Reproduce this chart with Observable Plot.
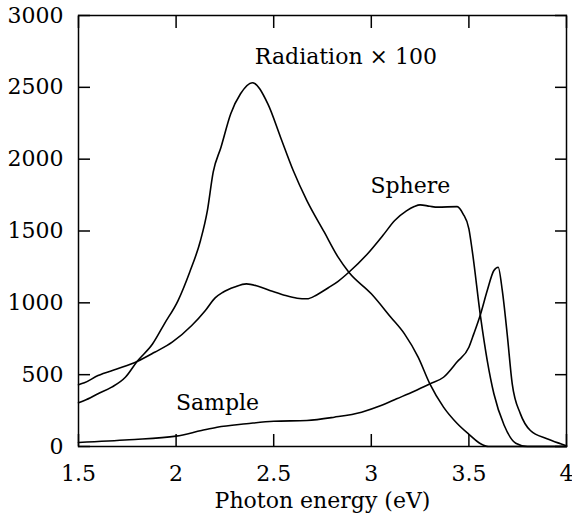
<!DOCTYPE html>
<html><head><meta charset="utf-8">
<script src="https://cdn.jsdelivr.net/npm/d3@7"></script>
<script src="https://cdn.jsdelivr.net/npm/@observablehq/plot@0.6"></script>
<style>body{margin:0;background:#fff}</style>
</head><body><div id="chart"></div>
<script>
// Radiation x 100
const radX = [1.5, 1.53, 1.6, 1.67, 1.74, 1.8, 1.88, 1.94, 2.01, 2.07, 2.125, 2.16, 2.19, 2.23, 2.28, 2.33, 2.39, 2.47, 2.535, 2.6, 2.67, 2.76, 2.83, 2.885, 3.0, 3.1, 3.17, 3.24, 3.3, 3.37, 3.44, 3.5, 3.56, 3.6, 3.7, 4.0];
const radY = [305, 320, 367, 413, 482, 592, 715, 854, 1016, 1215, 1434, 1640, 1910, 2083, 2316, 2455, 2532, 2385, 2153, 1921, 1712, 1490, 1318, 1213, 1063, 900, 784, 622, 436, 274, 160, 85, 19, 0, 0, 0];
// Sphere
const sphX = [1.5, 1.53, 1.6, 1.7, 1.8, 1.89, 1.98, 2.08, 2.15, 2.2, 2.24, 2.3, 2.36, 2.42, 2.48, 2.55, 2.62, 2.67, 2.72, 2.78, 2.83, 2.885, 2.98, 3.06, 3.12, 3.18, 3.22, 3.25, 3.3, 3.34, 3.44, 3.47, 3.5, 3.517, 3.56, 3.594, 3.628, 3.68, 3.74, 3.8, 4.0];
const sphY = [430, 443, 494, 541, 592, 656, 726, 842, 947, 1035, 1074, 1110, 1132, 1115, 1086, 1055, 1032, 1028, 1055, 1105, 1150, 1213, 1340, 1470, 1573, 1640, 1670, 1682, 1672, 1666, 1670, 1620, 1515, 1364, 900, 598, 367, 150, 23, 0, 0];
// Sample
const samX = [1.5, 1.76, 2.0, 2.13, 2.21, 2.36, 2.5, 2.67, 2.81, 2.95, 3.05, 3.13, 3.22, 3.3, 3.37, 3.44, 3.5, 3.525, 3.56, 3.594, 3.628, 3.65, 3.671, 3.696, 3.722, 3.764, 3.815, 3.9, 3.97, 4.0];
const samY = [28, 47, 72, 111, 134, 158, 176, 181, 204, 239, 285, 332, 385, 436, 482, 590, 691, 784, 923, 1086, 1225, 1248, 1086, 784, 436, 227, 111, 54, 19, 5];

const xTicks = [1.5, 2, 2.5, 3, 3.5, 4];
const yTicks = [0, 500, 1000, 1500, 2000, 2500, 3000];
const labelText = ["Radiation × 100", "Sphere", "Sample"];
const labelX = [2.87, 3.20, 2.212];
const labelY = [2708, 1817, 306];
const xTitle = "Photon energy (eV)";

const FONT = "DejaVu Serif";
const FS = 22;
const toRows = (xs, ys) => xs.map((x, i) => ({x, y: ys[i]}));
const series = [toRows(radX, radY), toRows(sphX, sphY), toRows(samX, samY)];
const labels = labelText.map((t, i) => ({t, x: labelX[i], y: labelY[i]}));

const chart = Plot.plot({
  width: 572, height: 521,
  marginLeft: 78, marginRight: 6, marginTop: 15, marginBottom: 75,
  style: {fontFamily: FONT, fontSize: FS + "px", background: "white", color: "black", overflow: "visible"},
  x: {domain: [1.5, 4]},
  y: {domain: [0, 3000]},
  marks: [
    Plot.axisX(xTicks, {anchor: "bottom", tickSize: -12, tickPadding: 31, strokeWidth: 1.5, tickFormat: d => String(d), label: null, fontSize: FS, fontFamily: FONT}),
    Plot.axisX(xTicks, {anchor: "top", tickSize: -12, strokeWidth: 1.5, tickFormat: () => "", label: null}),
    Plot.axisY(yTicks, {anchor: "left", tickSize: -12, tickPadding: 27, strokeWidth: 1.5, tickFormat: d => String(d), label: null, fontSize: FS, fontFamily: FONT}),
    Plot.axisY(yTicks, {anchor: "right", tickSize: -12, strokeWidth: 1.5, tickFormat: () => "", label: null}),
    ...series.map(s => Plot.line(s, {x: "x", y: "y", curve: "monotone-x", stroke: "black", strokeWidth: 1.6})),
    Plot.text(labels, {x: "x", y: "y", text: "t", fontSize: FS, fontFamily: FONT, lineAnchor: "middle", fill: "black"}),
    Plot.text([xTitle], {text: d => d, frameAnchor: "bottom", dy: 54, lineAnchor: "middle", fontSize: FS, fontFamily: FONT, fill: "black"}),
    Plot.frame({stroke: "black", strokeWidth: 1.5})
  ]
});
document.getElementById("chart").appendChild(chart);
</script>
</body></html>
